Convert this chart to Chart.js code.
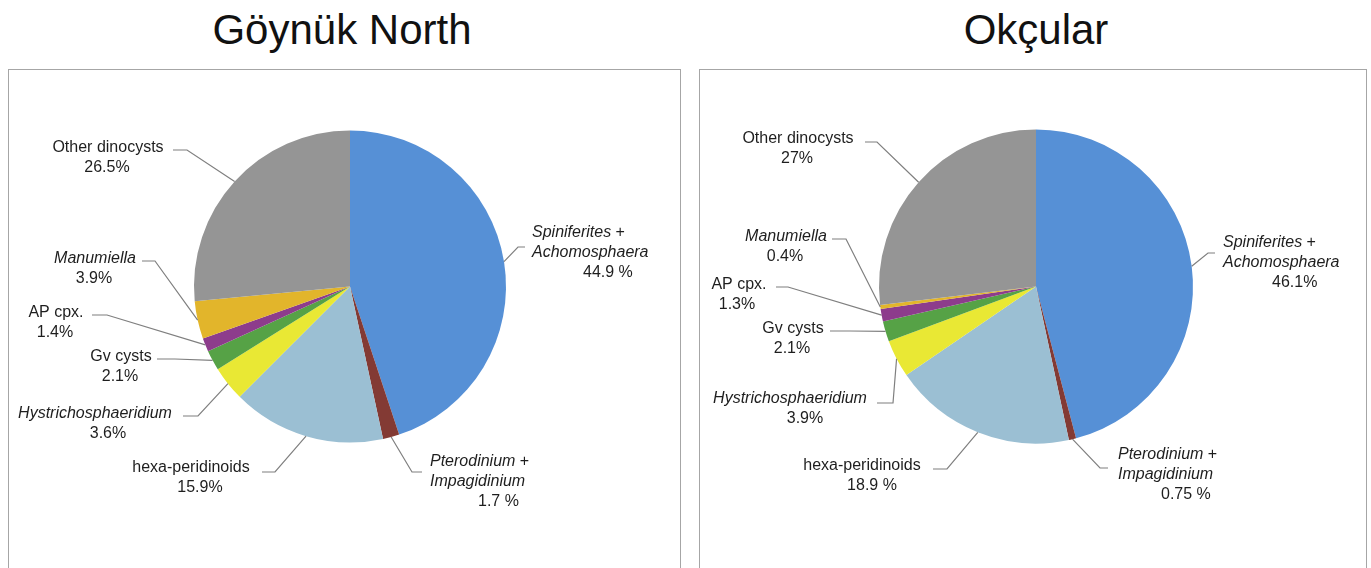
<!DOCTYPE html>
<html>
<head>
<meta charset="utf-8">
<script src="https://cdn.jsdelivr.net/npm/chart.js@4"></script>
<style>
  body { margin: 0; background: #fff; width: 1371px; height: 568px; overflow: hidden; position: relative; font-family: "Liberation Sans", Arial, sans-serif; }
  .title { position: absolute; top: 4px; font-size: 42px; color: #111; text-align: center; line-height: 52px; }
  .box { position: absolute; top: 69px; height: 520px; border: 1px solid #a6a6a6; box-sizing: border-box; }
  canvas { position: absolute; left: 0; top: 0; pointer-events: none; }
</style>
</head>
<body>
<div class="title" style="left:142px;width:400px;">Göynük North</div>
<div class="title" style="left:836px;width:400px;">Okçular</div>
<div class="box" style="left:8px;width:673px;"></div>
<div class="box" style="left:699px;width:668px;"></div>
<canvas id="chart_goynuk" width="1371" height="568"></canvas>
<canvas id="chart_okcular" width="1371" height="568"></canvas>
<script>
const categories = ['Spiniferites + Achomosphaera', 'Pterodinium + Impagidinium', 'hexa-peridinoids',
  'Hystrichosphaeridium', 'Gv cysts', 'AP cpx.', 'Manumiella', 'Other dinocysts'];
const goynukValues = [44.9, 1.7, 15.9, 3.6, 2.1, 1.4, 3.9, 26.5];
const okcularValues = [46.1, 0.75, 18.9, 3.9, 2.1, 1.3, 0.4, 27];
const goynukPct = ['44.9 %', '1.7 %', '15.9%', '3.6%', '2.1%', '1.4%', '3.9%', '26.5%'];
const okcularPct = ['46.1%', '0.75 %', '18.9 %', '3.9%', '2.1%', '1.3%', '0.4%', '27%'];
const sliceColors = ['#5690d6', '#833a34', '#9bbfd3', '#e9e834', '#56a246', '#8d3c8c', '#e2b52b', '#959595'];

// label text, [text, italic] parts per line
const nameLines = [
  [[['Spiniferites', true], [' +', false]], [['Achomosphaera', true]]],
  [[['Pterodinium', true], [' +', false]], [['Impagidinium', true]]],
  [[['hexa-peridinoids', false]]],
  [[['Hystrichosphaeridium', true]]],
  [[['Gv cysts', false]]],
  [[['AP cpx.', false]]],
  [[['Manumiella', true]]],
  [[['Other dinocysts', false]]]
];

// where the labels sit (x per line, first line y, leader elbow)
const goynukLabelPos = [
  { xs: [532, 532, 583], align: 'left', y: 233, lead: { y: 247, end: 525, elbow: 518 } },
  { xs: [430, 430, 478], align: 'left', y: 462, lead: { y: 472, end: 422, elbow: 412 } },
  { xs: [191, 200], align: 'center', y: 468, lead: { y: 472, end: 262, elbow: 275 } },
  { xs: [95, 108], align: 'center', y: 414, lead: { y: 416, end: 183, elbow: 198 } },
  { xs: [121, 120], align: 'center', y: 357, lead: { y: 359, end: 157, elbow: 175 } },
  { xs: [56, 55], align: 'center', y: 313, lead: { y: 315, end: 92, elbow: 107 } },
  { xs: [95, 94], align: 'center', y: 259, lead: { y: 261, end: 142, elbow: 155 } },
  { xs: [108, 107], align: 'center', y: 148, lead: { y: 150, end: 173, elbow: 187 } }
];
const okcularLabelPos = [
  { xs: [1223, 1223, 1272], align: 'left', y: 243, lead: { y: 253, end: 1215, elbow: 1208 } },
  { xs: [1118, 1118, 1161], align: 'left', y: 455, lead: { y: 468, end: 1108, elbow: 1100 } },
  { xs: [862, 872], align: 'center', y: 466, lead: { y: 469, end: 933, elbow: 947 } },
  { xs: [790, 805], align: 'center', y: 399, lead: { y: 403, end: 877, elbow: 893 } },
  { xs: [793, 792], align: 'center', y: 329, lead: { y: 331, end: 830, elbow: 850 } },
  { xs: [739, 737], align: 'center', y: 285, lead: { y: 287, end: 776, elbow: 788 } },
  { xs: [786, 785], align: 'center', y: 237, lead: { y: 239, end: 832, elbow: 846 } },
  { xs: [798, 797], align: 'center', y: 139, lead: { y: 142, end: 865, elbow: 877 } }
];

const FONT = '"Liberation Sans", Arial, sans-serif';

function drawParts(ctx, parts, x, y, align) {
  const fonts = parts.map(p => (p[1] ? 'italic ' : '') + '16px ' + FONT);
  let total = 0;
  const widths = parts.map((p, i) => { ctx.font = fonts[i]; const w = ctx.measureText(p[0]).width; total += w; return w; });
  let cx = align === 'center' ? x - total / 2 : x;
  parts.forEach((p, i) => {
    ctx.font = fonts[i];
    ctx.fillText(p[0], cx, y);
    cx += widths[i];
  });
}

const calloutPlugin = {
  id: 'callouts',
  afterDatasetsDraw(chart, args, opts) {
    const ctx = chart.ctx;
    const meta = chart.getDatasetMeta(0);
    ctx.save();
    meta.data.forEach((arc, i) => {
      const pos = opts.positions[i];
      const mid = (arc.startAngle + arc.endAngle) / 2;
      const ax = arc.x + Math.cos(mid) * arc.outerRadius;
      const ay = arc.y + Math.sin(mid) * arc.outerRadius;
      ctx.strokeStyle = '#7f7f7f';
      ctx.lineWidth = 1.2;
      ctx.beginPath();
      ctx.moveTo(ax, ay);
      ctx.lineTo(pos.lead.elbow, pos.lead.y);
      ctx.lineTo(pos.lead.end, pos.lead.y);
      ctx.stroke();

      const lines = nameLines[i].concat([[[opts.pct[i], false]]]);
      ctx.fillStyle = '#1e1e1e';
      ctx.textBaseline = 'middle';
      ctx.textAlign = 'left';
      lines.forEach((parts, j) => {
        drawParts(ctx, parts, pos.xs[j], pos.y + j * 20, pos.align);
      });
    });
    ctx.restore();
  }
};

function makePie(id, values, pct, positions, pad) {
  return new Chart(document.getElementById(id), {
    type: 'pie',
    data: {
      labels: categories,
      datasets: [{
        data: values,
        backgroundColor: sliceColors,
        borderWidth: 0
      }]
    },
    options: {
      responsive: false,
      animation: false,
      events: [],
      layout: { padding: pad },
      plugins: {
        legend: { display: false },
        tooltip: { enabled: false },
        callouts: { positions, pct }
      }
    },
    plugins: [calloutPlugin]
  });
}

makePie('chart_goynuk', goynukValues, goynukPct, goynukLabelPos, { left: 194, right: 865, top: 130.5, bottom: 125.5 });
makePie('chart_okcular', okcularValues, okcularPct, okcularLabelPos, { left: 879, right: 178, top: 129.5, bottom: 124.5 });
</script>
</body>
</html>
